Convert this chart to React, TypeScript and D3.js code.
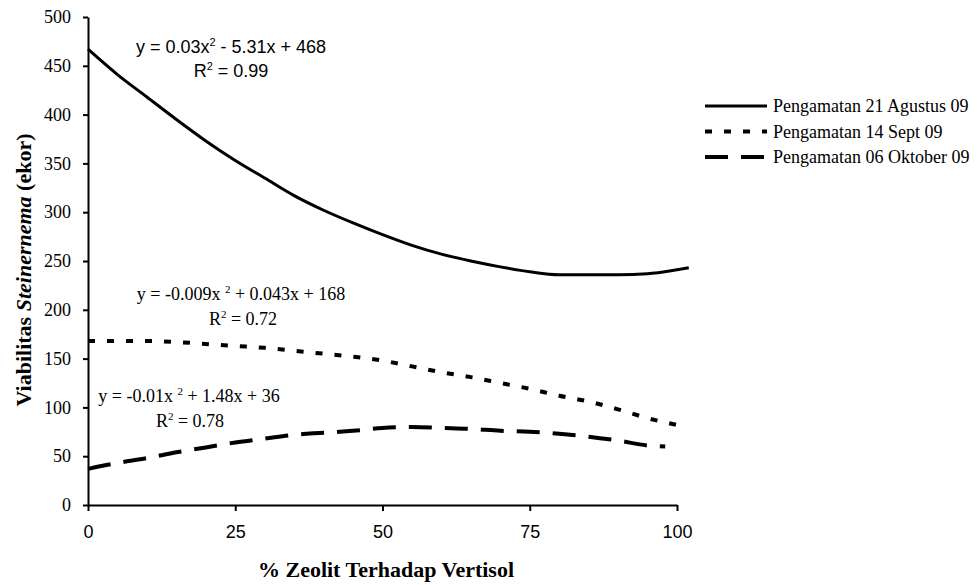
import * as d3 from 'd3';
import { useEffect, useRef } from 'react';

const W = 978;
const H = 585;

// % zeolit (x) and viabilitas (y)
const agustusX = [0, 5, 10, 15, 20, 25, 30, 35, 40, 45, 50, 55, 60, 65, 70, 75, 80, 85, 90, 95, 100, 102];
const agustusY = [467, 441, 418, 395, 373, 353, 335, 317, 302, 289, 277, 266, 257, 250, 244, 239, 236, 236, 236, 237, 241, 243];

const septX = [0, 5, 10, 15, 20, 25, 30, 35, 40, 45, 50, 55, 60, 65, 70, 75, 80, 85, 90, 95, 100];
const septY = [168, 168, 168, 167, 165, 163, 161, 158, 155, 152, 148, 142, 136, 131, 125, 119, 112, 106, 98, 89, 82];

const oktoberX = [0, 5, 10, 15, 20, 25, 30, 35, 40, 45, 50, 55, 60, 65, 70, 75, 80, 85, 90, 95, 98];
const oktoberY = [37, 43, 48, 54, 59, 64, 68, 72, 74, 76, 79, 80, 79, 78, 76, 75, 73, 70, 66, 61, 60];

const xTicks = [0, 25, 50, 75, 100];
const yTicks = [0, 50, 100, 150, 200, 250, 300, 350, 400, 450, 500];

const seriesNames = ['Pengamatan 21 Agustus 09', 'Pengamatan 14 Sept 09', 'Pengamatan 06 Oktober 09'];
const dashes = ['none', '7 12', '23 13'];

const serif = '"Liberation Serif", "Times New Roman", serif';
const sans = '"Liberation Sans", Arial, sans-serif';

const App = () => {
  const svgRef = useRef(null);

  useEffect(() => {
    const svg = d3.select(svgRef.current);
    svg.selectAll('*').remove();

    const x = d3.scaleLinear().domain([0, 100]).range([88, 677]);
    const y = d3.scaleLinear().domain([0, 500]).range([505, 17]);

    const series = [
      agustusX.map((v, i) => [v, agustusY[i]]),
      septX.map((v, i) => [v, septY[i]]),
      oktoberX.map((v, i) => [v, oktoberY[i]]),
    ];

    const line = d3
      .line()
      .x((d) => x(d[0]))
      .y((d) => y(d[1]))
      .curve(d3.curveMonotoneX);

    series.forEach((pts, i) => {
      svg
        .append('path')
        .datum(pts)
        .attr('fill', 'none')
        .attr('stroke', '#000')
        .attr('stroke-width', i === 0 ? 3 : 4)
        .attr('stroke-dasharray', dashes[i])
        .attr('d', line);
    });

    // axes
    svg
      .append('g')
      .attr('transform', 'translate(88,0)')
      .call(d3.axisLeft(y).tickValues(yTicks).tickSize(5).tickSizeOuter(0).tickPadding(12))
      .call((g) => g.selectAll('path, line').attr('stroke', '#000').attr('stroke-width', 2))
      .call((g) => g.selectAll('text').attr('fill', '#000').style('font-family', serif).style('font-size', '18px'));

    svg
      .append('g')
      .attr('transform', 'translate(0,505)')
      .call(d3.axisBottom(x).tickValues(xTicks).tickSize(6).tickSizeOuter(0).tickPadding(14))
      .call((g) => g.selectAll('path, line').attr('stroke', '#000').attr('stroke-width', 2))
      .call((g) => g.selectAll('text').attr('fill', '#000').style('font-family', sans).style('font-size', '18px'));

    // axis titles
    svg
      .append('text')
      .attr('x', 386)
      .attr('y', 577)
      .attr('text-anchor', 'middle')
      .style('font-family', serif)
      .style('font-size', '22px')
      .style('font-weight', 'bold')
      .text('% Zeolit Terhadap Vertisol');

    const yTitle = svg
      .append('text')
      .attr('transform', 'translate(31,270) rotate(-90)')
      .attr('text-anchor', 'middle')
      .style('font-family', serif)
      .style('font-size', '22px')
      .style('font-weight', 'bold');
    yTitle.append('tspan').text('Viabilitas ');
    yTitle.append('tspan').style('font-style', 'italic').text('Steinernema');
    yTitle.append('tspan').text(' (ekor)');

    // trend equations
    const equation = (cx, cy, font, parts) => {
      const t = svg
        .append('text')
        .attr('x', cx)
        .attr('y', cy)
        .attr('text-anchor', 'middle')
        .style('font-family', font)
        .style('font-size', '18px');
      let raised = false;
      parts.forEach(([txt, sup]) => {
        const span = t.append('tspan').text(txt);
        if (sup) {
          span.attr('dy', -7).style('font-size', '11px');
          raised = true;
        } else if (raised) {
          span.attr('dy', 7);
          raised = false;
        }
      });
    };

    equation(231, 53, sans, [['y = 0.03x'], ['2', true], [' - 5.31x + 468']]);
    equation(231, 77, sans, [['R'], ['2', true], [' = 0.99']]);

    equation(241, 300, serif, [['y = -0.009x '], ['2', true], [' + 0.043x + 168']]);
    equation(243, 325, serif, [['R'], ['2', true], [' = 0.72']]);

    equation(189, 402, serif, [['y = -0.01x '], ['2', true], [' + 1.48x + 36']]);
    equation(190, 427, serif, [['R'], ['2', true], [' = 0.78']]);

    // legend
    const legend = svg.append('g');
    seriesNames.forEach((name, i) => {
      const ly = 106 + i * 25.5;
      legend
        .append('line')
        .attr('x1', 705)
        .attr('x2', 767)
        .attr('y1', ly)
        .attr('y2', ly)
        .attr('stroke', '#000')
        .attr('stroke-width', i === 0 ? 3 : 4)
        .attr('stroke-dasharray', dashes[i]);
      legend
        .append('text')
        .attr('x', 773)
        .attr('y', ly + 6)
        .style('font-family', serif)
        .style('font-size', '18px')
        .text(name);
    });
  }, []);

  return (
    <svg
      ref={svgRef}
      width={W}
      height={H}
      style={{ position: 'absolute', left: 0, top: 0, background: '#fff' }}
    />
  );
};

export default App;
